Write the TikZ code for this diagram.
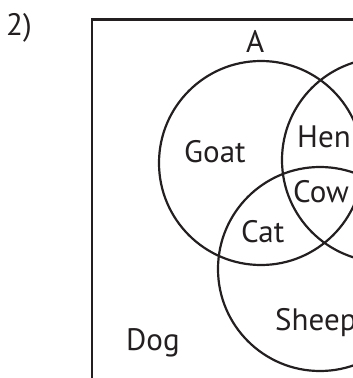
\documentclass[tikz,border=0pt]{standalone}
\usepackage{fontspec}
\setmainfont{PT Sans}
\definecolor{ink}{HTML}{231F20}
\begin{document}
\begin{tikzpicture}[x=1pt,y=-1pt,
  lbl/.style={anchor=base west,inner sep=0pt,text=ink,font=\fontsize{31}{31}\selectfont},
  setc/.style={circle,draw=ink,line width=2.2pt,minimum size=204pt,inner sep=0pt}]
\useasboundingbox (0,0) rectangle (353,378);
\clip (0,0) rectangle (353,378);
\draw[ink,line width=2.6pt] (92,420) -- (92,19.5) -- (420,19.5);
\node[setc] (A) at (261,163) {};
\node[setc] (B) at (384,160) {};
\node[setc] (C) at (320,269) {};
\node[lbl] (n2) at (6,35) {2)};
\node[lbl] (nA) at (246,52) {A};
\node[lbl] (goat) at (184,162) {Goat};
\node[lbl] (hen) at (297,147) {Hen};
\node[lbl] (cow) at (293,202) {Cow};
\node[lbl] (cat) at (241,242) {Cat};
\node[lbl] (dog) at (126,350) {Dog};
\node[lbl] (sheep) at (275,330) {Sheep};
\end{tikzpicture}
\end{document}
